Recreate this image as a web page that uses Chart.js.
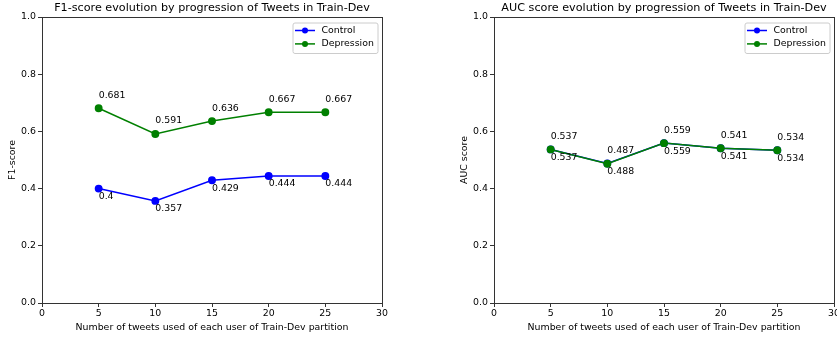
<!DOCTYPE html>
<html>
<head>
<meta charset="utf-8">
<script src="https://cdn.jsdelivr.net/npm/chart.js@4.4.1/dist/chart.umd.min.js"></script>
<style>
  html, body { margin: 0; padding: 0; background: #fff; overflow: hidden; width: 837px; height: 337px; }
  .panel { position: absolute; top: 0; height: 337px; }
  #f1Panel { left: 0; width: 420px; }
  #aucPanel { left: 452px; width: 420px; }
</style>
</head>
<body>
<div class="panel" id="f1Panel"><canvas id="f1Chart" width="420" height="337"></canvas></div>
<div class="panel" id="aucPanel"><canvas id="aucChart" width="420" height="337"></canvas></div>
<script>
// Number of tweets per user used at each step
const tweetCounts = [5, 10, 15, 20, 25];

// F1-score per class
const f1Control = [0.4, 0.357, 0.429, 0.444, 0.444];
const f1Depression = [0.681, 0.591, 0.636, 0.667, 0.667];

// AUC score per class
const aucControl = [0.537, 0.488, 0.559, 0.541, 0.534];
const aucDepression = [0.537, 0.487, 0.559, 0.541, 0.534];

const xTicks = [0, 5, 10, 15, 20, 25, 30];
const yTicks = [0.0, 0.2, 0.4, 0.6, 0.8, 1.0];

const FONT = 'DejaVu Sans';
const TITLE_SIZE = 11.2;
const TEXT_SIZE = 9.4;
const AXIS_COLOR = '#333333';
const BLUE = '#0000ff';
const GREEN = '#008000';

const toPoints = (vals) => vals.map((v, i) => ({ x: tweetCounts[i], y: v }));

// Frame, title, value labels and legend drawn on top of the plot area
const decorPlugin = {
  id: 'decor',
  afterDatasetsDraw(chart, args, opts) {
    const { ctx, chartArea: a } = chart;
    ctx.save();
    // full box frame
    ctx.strokeStyle = AXIS_COLOR;
    ctx.lineWidth = 1;
    ctx.strokeRect(Math.round(a.left) + 0.5, Math.round(a.top) + 0.5,
                   Math.round(a.right - a.left), Math.round(a.bottom - a.top));

    // title centred on plot area
    ctx.fillStyle = '#000';
    ctx.font = TITLE_SIZE + 'px "' + FONT + '"';
    ctx.textAlign = 'center';
    ctx.textBaseline = 'middle';
    ctx.fillText(opts.title, (a.left + a.right) / 2, a.top - 8.5);

    // value labels: Control below-right, Depression above-right
    ctx.font = TEXT_SIZE + 'px "' + FONT + '"';
    ctx.textAlign = 'left';
    const xs = chart.scales.x, ys = chart.scales.y;
    chart.data.datasets.forEach((ds) => {
      const below = ds.label === 'Control';
      ds.data.forEach((p) => {
        const px = xs.getPixelForValue(p.x);
        const py = ys.getPixelForValue(p.y);
        ctx.fillText(String(p.y), px, below ? py + 8 : py - 13);
      });
    });

    // legend box in upper right
    const w = 85, h = 30.5;
    const bx = a.right - 4.5 - w, by = a.top + 5.5;
    ctx.beginPath();
    if (ctx.roundRect) ctx.roundRect(bx + 0.5, by + 0.5, w, h, 2);
    else ctx.rect(bx + 0.5, by + 0.5, w, h);
    ctx.fillStyle = 'rgba(255,255,255,0.8)';
    ctx.fill();
    ctx.strokeStyle = '#cccccc';
    ctx.stroke();
    chart.data.datasets.forEach((ds, i) => {
      const ly = by + 8 + i * 13.4;
      ctx.strokeStyle = ds.borderColor;
      ctx.lineWidth = 1.5;
      ctx.beginPath();
      ctx.moveTo(bx + 2.5, ly);
      ctx.lineTo(bx + 22.5, ly);
      ctx.stroke();
      ctx.fillStyle = ds.borderColor;
      ctx.beginPath();
      ctx.arc(bx + 12.5, ly, 3, 0, Math.PI * 2);
      ctx.fill();
      ctx.fillStyle = '#000';
      ctx.textBaseline = 'middle';
      ctx.fillText(ds.label, bx + 29, ly);
    });
    ctx.restore();
  }
};

function makeChart(id, title, yTitle, control, depression) {
  return new Chart(document.getElementById(id), {
    type: 'line',
    data: {
      datasets: [
        { label: 'Control', data: toPoints(control), order: 1, borderColor: BLUE, backgroundColor: BLUE,
          pointBackgroundColor: BLUE, pointBorderColor: BLUE, borderWidth: 1.5, pointRadius: 3.2, pointHoverRadius: 3.2 },
        { label: 'Depression', data: toPoints(depression), order: 0, borderColor: GREEN, backgroundColor: GREEN,
          pointBackgroundColor: GREEN, pointBorderColor: GREEN, borderWidth: 1.5, pointRadius: 3.2, pointHoverRadius: 3.2 }
      ]
    },
    options: {
      responsive: false,
      animation: false,
      events: [],
      layout: { padding: { top: 17, right: 38, bottom: 0, left: 0 } },
      plugins: {
        legend: { display: false },
        tooltip: { enabled: false },
        title: { display: false },
        decor: { title: title }
      },
      scales: {
        x: {
          type: 'linear', min: 0, max: 30,
          afterBuildTicks: (s) => { s.ticks = xTicks.map((v) => ({ value: v })); },
          afterFit: (s) => { s.height = 34; },
          grid: { drawOnChartArea: false, drawTicks: true, tickLength: 4, color: AXIS_COLOR },
          border: { display: true, color: AXIS_COLOR, width: 1 },
          ticks: { color: '#000', padding: 1, maxRotation: 0, font: { family: FONT, size: TEXT_SIZE },
                   callback: (v) => String(v) },
          title: { display: true, text: 'Number of tweets used of each user of Train-Dev partition',
                   color: '#000', font: { family: FONT, size: TEXT_SIZE }, padding: { top: 0, bottom: 4 } }
        },
        y: {
          type: 'linear', min: 0, max: 1,
          afterBuildTicks: (s) => { s.ticks = yTicks.map((v) => ({ value: v })); },
          afterFit: (s) => { s.width = 42; },
          grid: { drawOnChartArea: false, drawTicks: true, tickLength: 4, color: AXIS_COLOR },
          border: { display: true, color: AXIS_COLOR, width: 1 },
          ticks: { color: '#000', padding: 2, font: { family: FONT, size: TEXT_SIZE },
                   callback: (v) => Number(v).toFixed(1) },
          title: { display: true, text: yTitle, color: '#000', font: { family: FONT, size: TEXT_SIZE },
                   padding: { top: 7, bottom: 0 } }
        }
      }
    },
    plugins: [decorPlugin]
  });
}

makeChart('f1Chart', 'F1-score evolution by progression of Tweets in Train-Dev', 'F1-score', f1Control, f1Depression);
makeChart('aucChart', 'AUC score evolution by progression of Tweets in Train-Dev', 'AUC score', aucControl, aucDepression);
</script>
</body>
</html>
